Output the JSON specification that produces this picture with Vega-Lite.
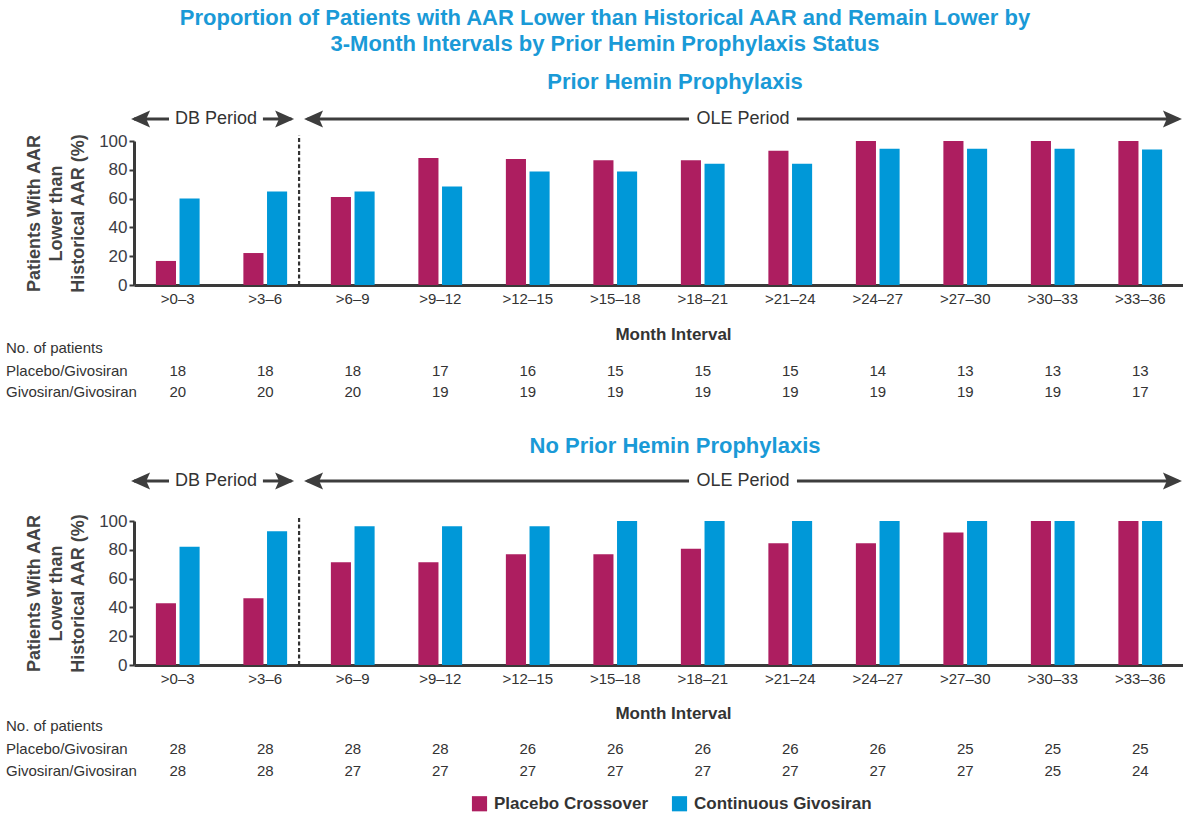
{
  "$schema": "https://vega.github.io/schema/vega-lite/v6.json",
  "background": "white",
  "padding": {"left": 5, "right": 0, "top": 6, "bottom": 0},
  "title": {
    "text": ["Proportion of Patients with AAR Lower than Historical AAR and Remain Lower by", "3-Month Intervals by Prior Hemin Prophylaxis Status"],
    "fontSize": 22, "fontWeight": "bold", "color": "#1A9AD7", "lineHeight": 26, "anchor": "middle", "offset": 15, "dx": 10
  },
  "datasets": {
    "bars": [
      {"panel": "Prior", "interval": ">0–3", "series": "Placebo Crossover", "pct": 16.7},
      {"panel": "Prior", "interval": ">3–6", "series": "Placebo Crossover", "pct": 22.2},
      {"panel": "Prior", "interval": ">6–9", "series": "Placebo Crossover", "pct": 61.1},
      {"panel": "Prior", "interval": ">9–12", "series": "Placebo Crossover", "pct": 88.2},
      {"panel": "Prior", "interval": ">12–15", "series": "Placebo Crossover", "pct": 87.5},
      {"panel": "Prior", "interval": ">15–18", "series": "Placebo Crossover", "pct": 86.7},
      {"panel": "Prior", "interval": ">18–21", "series": "Placebo Crossover", "pct": 86.7},
      {"panel": "Prior", "interval": ">21–24", "series": "Placebo Crossover", "pct": 93.3},
      {"panel": "Prior", "interval": ">24–27", "series": "Placebo Crossover", "pct": 100},
      {"panel": "Prior", "interval": ">27–30", "series": "Placebo Crossover", "pct": 100},
      {"panel": "Prior", "interval": ">30–33", "series": "Placebo Crossover", "pct": 100},
      {"panel": "Prior", "interval": ">33–36", "series": "Placebo Crossover", "pct": 100},
      {"panel": "Prior", "interval": ">0–3", "series": "Continuous Givosiran", "pct": 60},
      {"panel": "Prior", "interval": ">3–6", "series": "Continuous Givosiran", "pct": 65},
      {"panel": "Prior", "interval": ">6–9", "series": "Continuous Givosiran", "pct": 65},
      {"panel": "Prior", "interval": ">9–12", "series": "Continuous Givosiran", "pct": 68.4},
      {"panel": "Prior", "interval": ">12–15", "series": "Continuous Givosiran", "pct": 78.9},
      {"panel": "Prior", "interval": ">15–18", "series": "Continuous Givosiran", "pct": 78.9},
      {"panel": "Prior", "interval": ">18–21", "series": "Continuous Givosiran", "pct": 84.2},
      {"panel": "Prior", "interval": ">21–24", "series": "Continuous Givosiran", "pct": 84.2},
      {"panel": "Prior", "interval": ">24–27", "series": "Continuous Givosiran", "pct": 94.7},
      {"panel": "Prior", "interval": ">27–30", "series": "Continuous Givosiran", "pct": 94.7},
      {"panel": "Prior", "interval": ">30–33", "series": "Continuous Givosiran", "pct": 94.7},
      {"panel": "Prior", "interval": ">33–36", "series": "Continuous Givosiran", "pct": 94.1},
      {"panel": "NoPrior", "interval": ">0–3", "series": "Placebo Crossover", "pct": 42.9},
      {"panel": "NoPrior", "interval": ">3–6", "series": "Placebo Crossover", "pct": 46.4},
      {"panel": "NoPrior", "interval": ">6–9", "series": "Placebo Crossover", "pct": 71.4},
      {"panel": "NoPrior", "interval": ">9–12", "series": "Placebo Crossover", "pct": 71.4},
      {"panel": "NoPrior", "interval": ">12–15", "series": "Placebo Crossover", "pct": 76.9},
      {"panel": "NoPrior", "interval": ">15–18", "series": "Placebo Crossover", "pct": 76.9},
      {"panel": "NoPrior", "interval": ">18–21", "series": "Placebo Crossover", "pct": 80.8},
      {"panel": "NoPrior", "interval": ">21–24", "series": "Placebo Crossover", "pct": 84.6},
      {"panel": "NoPrior", "interval": ">24–27", "series": "Placebo Crossover", "pct": 84.6},
      {"panel": "NoPrior", "interval": ">27–30", "series": "Placebo Crossover", "pct": 92},
      {"panel": "NoPrior", "interval": ">30–33", "series": "Placebo Crossover", "pct": 100},
      {"panel": "NoPrior", "interval": ">33–36", "series": "Placebo Crossover", "pct": 100},
      {"panel": "NoPrior", "interval": ">0–3", "series": "Continuous Givosiran", "pct": 82.1},
      {"panel": "NoPrior", "interval": ">3–6", "series": "Continuous Givosiran", "pct": 92.9},
      {"panel": "NoPrior", "interval": ">6–9", "series": "Continuous Givosiran", "pct": 96.3},
      {"panel": "NoPrior", "interval": ">9–12", "series": "Continuous Givosiran", "pct": 96.3},
      {"panel": "NoPrior", "interval": ">12–15", "series": "Continuous Givosiran", "pct": 96.3},
      {"panel": "NoPrior", "interval": ">15–18", "series": "Continuous Givosiran", "pct": 100},
      {"panel": "NoPrior", "interval": ">18–21", "series": "Continuous Givosiran", "pct": 100},
      {"panel": "NoPrior", "interval": ">21–24", "series": "Continuous Givosiran", "pct": 100},
      {"panel": "NoPrior", "interval": ">24–27", "series": "Continuous Givosiran", "pct": 100},
      {"panel": "NoPrior", "interval": ">27–30", "series": "Continuous Givosiran", "pct": 100},
      {"panel": "NoPrior", "interval": ">30–33", "series": "Continuous Givosiran", "pct": 100},
      {"panel": "NoPrior", "interval": ">33–36", "series": "Continuous Givosiran", "pct": 100}
    ],
    "counts": [
      {"panel": "Prior", "arm": "Placebo/Givosiran", "interval": ">0–3", "n": 18},
      {"panel": "Prior", "arm": "Placebo/Givosiran", "interval": ">3–6", "n": 18},
      {"panel": "Prior", "arm": "Placebo/Givosiran", "interval": ">6–9", "n": 18},
      {"panel": "Prior", "arm": "Placebo/Givosiran", "interval": ">9–12", "n": 17},
      {"panel": "Prior", "arm": "Placebo/Givosiran", "interval": ">12–15", "n": 16},
      {"panel": "Prior", "arm": "Placebo/Givosiran", "interval": ">15–18", "n": 15},
      {"panel": "Prior", "arm": "Placebo/Givosiran", "interval": ">18–21", "n": 15},
      {"panel": "Prior", "arm": "Placebo/Givosiran", "interval": ">21–24", "n": 15},
      {"panel": "Prior", "arm": "Placebo/Givosiran", "interval": ">24–27", "n": 14},
      {"panel": "Prior", "arm": "Placebo/Givosiran", "interval": ">27–30", "n": 13},
      {"panel": "Prior", "arm": "Placebo/Givosiran", "interval": ">30–33", "n": 13},
      {"panel": "Prior", "arm": "Placebo/Givosiran", "interval": ">33–36", "n": 13},
      {"panel": "Prior", "arm": "Givosiran/Givosiran", "interval": ">0–3", "n": 20},
      {"panel": "Prior", "arm": "Givosiran/Givosiran", "interval": ">3–6", "n": 20},
      {"panel": "Prior", "arm": "Givosiran/Givosiran", "interval": ">6–9", "n": 20},
      {"panel": "Prior", "arm": "Givosiran/Givosiran", "interval": ">9–12", "n": 19},
      {"panel": "Prior", "arm": "Givosiran/Givosiran", "interval": ">12–15", "n": 19},
      {"panel": "Prior", "arm": "Givosiran/Givosiran", "interval": ">15–18", "n": 19},
      {"panel": "Prior", "arm": "Givosiran/Givosiran", "interval": ">18–21", "n": 19},
      {"panel": "Prior", "arm": "Givosiran/Givosiran", "interval": ">21–24", "n": 19},
      {"panel": "Prior", "arm": "Givosiran/Givosiran", "interval": ">24–27", "n": 19},
      {"panel": "Prior", "arm": "Givosiran/Givosiran", "interval": ">27–30", "n": 19},
      {"panel": "Prior", "arm": "Givosiran/Givosiran", "interval": ">30–33", "n": 19},
      {"panel": "Prior", "arm": "Givosiran/Givosiran", "interval": ">33–36", "n": 17},
      {"panel": "NoPrior", "arm": "Placebo/Givosiran", "interval": ">0–3", "n": 28},
      {"panel": "NoPrior", "arm": "Placebo/Givosiran", "interval": ">3–6", "n": 28},
      {"panel": "NoPrior", "arm": "Placebo/Givosiran", "interval": ">6–9", "n": 28},
      {"panel": "NoPrior", "arm": "Placebo/Givosiran", "interval": ">9–12", "n": 28},
      {"panel": "NoPrior", "arm": "Placebo/Givosiran", "interval": ">12–15", "n": 26},
      {"panel": "NoPrior", "arm": "Placebo/Givosiran", "interval": ">15–18", "n": 26},
      {"panel": "NoPrior", "arm": "Placebo/Givosiran", "interval": ">18–21", "n": 26},
      {"panel": "NoPrior", "arm": "Placebo/Givosiran", "interval": ">21–24", "n": 26},
      {"panel": "NoPrior", "arm": "Placebo/Givosiran", "interval": ">24–27", "n": 26},
      {"panel": "NoPrior", "arm": "Placebo/Givosiran", "interval": ">27–30", "n": 25},
      {"panel": "NoPrior", "arm": "Placebo/Givosiran", "interval": ">30–33", "n": 25},
      {"panel": "NoPrior", "arm": "Placebo/Givosiran", "interval": ">33–36", "n": 25},
      {"panel": "NoPrior", "arm": "Givosiran/Givosiran", "interval": ">0–3", "n": 28},
      {"panel": "NoPrior", "arm": "Givosiran/Givosiran", "interval": ">3–6", "n": 28},
      {"panel": "NoPrior", "arm": "Givosiran/Givosiran", "interval": ">6–9", "n": 27},
      {"panel": "NoPrior", "arm": "Givosiran/Givosiran", "interval": ">9–12", "n": 27},
      {"panel": "NoPrior", "arm": "Givosiran/Givosiran", "interval": ">12–15", "n": 27},
      {"panel": "NoPrior", "arm": "Givosiran/Givosiran", "interval": ">15–18", "n": 27},
      {"panel": "NoPrior", "arm": "Givosiran/Givosiran", "interval": ">18–21", "n": 27},
      {"panel": "NoPrior", "arm": "Givosiran/Givosiran", "interval": ">21–24", "n": 27},
      {"panel": "NoPrior", "arm": "Givosiran/Givosiran", "interval": ">24–27", "n": 27},
      {"panel": "NoPrior", "arm": "Givosiran/Givosiran", "interval": ">27–30", "n": 27},
      {"panel": "NoPrior", "arm": "Givosiran/Givosiran", "interval": ">30–33", "n": 25},
      {"panel": "NoPrior", "arm": "Givosiran/Givosiran", "interval": ">33–36", "n": 24}
    ]
  },
  "vconcat": [
    {
      "title": {"text": "Prior Hemin Prophylaxis", "fontSize": 22, "fontWeight": "bold", "color": "#1A9AD7", "offset": 16, "dx": 16},
      "width": 1050,
      "height": 144,
      "resolve": {"scale": {"x": "independent"}, "axis": {"x": "independent", "y": "independent"}},
      "layer": [
        {
          "data": {"name": "bars"},
          "transform": [{"filter": "datum.panel === 'Prior'"}],
          "mark": {"type": "bar"},
          "encoding": {
            "x": {"field": "interval", "type": "nominal", "sort": [">0–3", ">3–6", ">6–9", ">9–12", ">12–15", ">15–18", ">18–21", ">21–24", ">24–27", ">27–30", ">30–33", ">33–36"],
              "scale": {"paddingInner": 0.5, "paddingOuter": 0.25},
              "axis": {"title": "Month Interval", "labelAngle": 0, "ticks": false, "tickSize": 0, "labelPadding": 6, "labelFontSize": 15, "labelColor": "#333333", "domainColor": "#3a3a3a", "domainWidth": 3, "titleFontSize": 17, "titleFontWeight": "bold", "titleColor": "#333333", "titlePadding": 20, "titleX": 539}},
            "xOffset": {"field": "series", "type": "nominal", "sort": ["Placebo Crossover", "Continuous Givosiran"], "scale": {"paddingInner": 0.15}},
            "y": {"field": "pct", "type": "quantitative", "scale": {"domain": [0, 100], "nice": false},
              "axis": {"title": ["Patients With AAR", "Lower than", "Historical AAR (%)"], "values": [0, 20, 40, 60, 80, 100], "labelOverlap": false, "grid": false, "domainColor": "#3a3a3a", "domainWidth": 3, "tickColor": "#3a3a3a", "tickWidth": 2, "tickSize": 5, "labelFontSize": 17, "labelColor": "#3c3c44", "labelPadding": 2, "titleFontSize": 18, "titleFontWeight": "bold", "titleColor": "#444444", "titleLineHeight": 22, "titlePadding": 11}},
            "color": {"field": "series", "type": "nominal", "sort": ["Placebo Crossover", "Continuous Givosiran"],
              "scale": {"domain": ["Placebo Crossover", "Continuous Givosiran"], "range": ["#AD1E60", "#0098D8"]},
              "legend": {"title": null, "orient": "none", "legendX": 337, "legendY": 654, "direction": "horizontal", "symbolType": "square", "symbolSize": 230, "symbolStrokeWidth": 0, "labelFontSize": 17, "labelFontWeight": "bold", "labelColor": "#333333", "labelLimit": 400, "columnPadding": 22, "labelOffset": 6}}
          }
        },
        {
          "data": {"name": "counts"},
          "transform": [{"filter": "datum.panel === 'Prior'"}],
          "layer": [
            {
              "transform": [{"filter": "datum.arm === 'Placebo/Givosiran'"}],
              "mark": {"type": "text", "fontSize": 15, "color": "#333333", "baseline": "middle"},
              "encoding": {
                "x": {"field": "interval", "type": "nominal", "sort": [">0–3", ">3–6", ">6–9", ">9–12", ">12–15", ">15–18", ">18–21", ">21–24", ">24–27", ">27–30", ">30–33", ">33–36"], "scale": {"type": "point", "padding": 0.5}, "axis": null},
                "y": {"datum": -59.8, "type": "quantitative", "scale": {"domain": [0, 100], "nice": false}, "axis": null},
                "text": {"field": "n", "type": "quantitative"}
              }
            },
            {
              "transform": [{"filter": "datum.arm === 'Givosiran/Givosiran'"}],
              "mark": {"type": "text", "fontSize": 15, "color": "#333333", "baseline": "middle"},
              "encoding": {
                "x": {"field": "interval", "type": "nominal", "sort": [">0–3", ">3–6", ">6–9", ">9–12", ">12–15", ">15–18", ">18–21", ">21–24", ">24–27", ">27–30", ">30–33", ">33–36"], "scale": {"type": "point", "padding": 0.5}, "axis": null},
                "y": {"datum": -74.2, "type": "quantitative", "scale": {"domain": [0, 100], "nice": false}, "axis": null},
                "text": {"field": "n", "type": "quantitative"}
              }
            }
          ]
        },
        {
          "data": {"values": [{}]},
          "layer": [
            {"mark": {"type": "text", "text": "No. of patients", "fontSize": 15, "color": "#333333", "align": "left", "baseline": "middle"},
             "encoding": {"x": {"datum": -4.39, "type": "quantitative", "scale": {"domain": [0, 36], "nice": false, "zero": false}, "axis": null}, "y": {"datum": -43.9, "type": "quantitative", "scale": {"domain": [0, 100], "nice": false}, "axis": null}}},
            {"mark": {"type": "text", "text": "Placebo/Givosiran", "fontSize": 15, "color": "#333333", "align": "left", "baseline": "middle"},
             "encoding": {"x": {"datum": -4.39, "type": "quantitative", "axis": null}, "y": {"datum": -59.8, "type": "quantitative", "axis": null}}},
            {"mark": {"type": "text", "text": "Givosiran/Givosiran", "fontSize": 15, "color": "#333333", "align": "left", "baseline": "middle"},
             "encoding": {"x": {"datum": -4.39, "type": "quantitative", "axis": null}, "y": {"datum": -74.2, "type": "quantitative", "axis": null}}},
            {"mark": {"type": "rule", "color": "#333333", "strokeWidth": 2.2, "strokeDash": [4, 2.5]},
             "encoding": {"x": {"datum": 5.66, "type": "quantitative", "axis": null}, "y": {"datum": 0, "type": "quantitative", "axis": null}, "y2": {"datum": 104}}},
            {"mark": {"type": "rule", "color": "#3d3d3d", "strokeWidth": 3},
             "encoding": {"x": {"datum": 0, "type": "quantitative", "axis": null}, "x2": {"datum": 1.2}, "y": {"datum": 115.3, "type": "quantitative", "axis": null}}},
            {"mark": {"type": "rule", "color": "#3d3d3d", "strokeWidth": 3},
             "encoding": {"x": {"datum": 4.42, "type": "quantitative", "axis": null}, "x2": {"datum": 5.4}, "y": {"datum": 115.3, "type": "quantitative", "axis": null}}},
            {"mark": {"type": "rule", "color": "#3d3d3d", "strokeWidth": 3},
             "encoding": {"x": {"datum": 5.95, "type": "quantitative", "axis": null}, "x2": {"datum": 19.03}, "y": {"datum": 115.3, "type": "quantitative", "axis": null}}},
            {"mark": {"type": "rule", "color": "#3d3d3d", "strokeWidth": 3},
             "encoding": {"x": {"datum": 22.73, "type": "quantitative", "axis": null}, "x2": {"datum": 35.8}, "y": {"datum": 115.3, "type": "quantitative", "axis": null}}},
            {"mark": {"type": "point", "filled": true, "opacity": 1, "color": "#3d3d3d", "size": 1444, "shape": "M0,0 L1,-0.45 L0.8,0 L1,0.45 Z"},
             "encoding": {"x": {"datum": -0.1, "type": "quantitative", "axis": null}, "y": {"datum": 115.3, "type": "quantitative", "axis": null}}},
            {"mark": {"type": "point", "filled": true, "opacity": 1, "color": "#3d3d3d", "size": 1444, "shape": "M0,0 L-1,-0.45 L-0.8,0 L-1,0.45 Z"},
             "encoding": {"x": {"datum": 5.49, "type": "quantitative", "axis": null}, "y": {"datum": 115.3, "type": "quantitative", "axis": null}}},
            {"mark": {"type": "point", "filled": true, "opacity": 1, "color": "#3d3d3d", "size": 1444, "shape": "M0,0 L1,-0.45 L0.8,0 L1,0.45 Z"},
             "encoding": {"x": {"datum": 5.83, "type": "quantitative", "axis": null}, "y": {"datum": 115.3, "type": "quantitative", "axis": null}}},
            {"mark": {"type": "point", "filled": true, "opacity": 1, "color": "#3d3d3d", "size": 1444, "shape": "M0,0 L-1,-0.45 L-0.8,0 L-1,0.45 Z"},
             "encoding": {"x": {"datum": 35.93, "type": "quantitative", "axis": null}, "y": {"datum": 115.3, "type": "quantitative", "axis": null}}},
            {"mark": {"type": "text", "text": "DB Period", "fontSize": 18, "color": "#333333", "baseline": "middle"},
             "encoding": {"x": {"datum": 2.81, "type": "quantitative", "axis": null}, "y": {"datum": 115.3, "type": "quantitative", "axis": null}}},
            {"mark": {"type": "text", "text": "OLE Period", "fontSize": 18, "color": "#333333", "baseline": "middle"},
             "encoding": {"x": {"datum": 20.88, "type": "quantitative", "axis": null}, "y": {"datum": 115.3, "type": "quantitative", "axis": null}}}
          ]
        }
      ]
    },
    {
      "title": {"text": "No Prior Hemin Prophylaxis", "fontSize": 22, "fontWeight": "bold", "color": "#1A9AD7", "offset": 14, "dx": 16},
      "width": 1050,
      "height": 144,
      "resolve": {"scale": {"x": "independent"}, "axis": {"x": "independent", "y": "independent"}},
      "layer": [
        {
          "data": {"name": "bars"},
          "transform": [{"filter": "datum.panel === 'NoPrior'"}],
          "mark": {"type": "bar"},
          "encoding": {
            "x": {"field": "interval", "type": "nominal", "sort": [">0–3", ">3–6", ">6–9", ">9–12", ">12–15", ">15–18", ">18–21", ">21–24", ">24–27", ">27–30", ">30–33", ">33–36"],
              "scale": {"paddingInner": 0.5, "paddingOuter": 0.25},
              "axis": {"title": "Month Interval", "labelAngle": 0, "ticks": false, "tickSize": 0, "labelPadding": 6, "labelFontSize": 15, "labelColor": "#333333", "domainColor": "#3a3a3a", "domainWidth": 3, "titleFontSize": 17, "titleFontWeight": "bold", "titleColor": "#333333", "titlePadding": 19, "titleX": 539}},
            "xOffset": {"field": "series", "type": "nominal", "sort": ["Placebo Crossover", "Continuous Givosiran"], "scale": {"paddingInner": 0.15}},
            "y": {"field": "pct", "type": "quantitative", "scale": {"domain": [0, 100], "nice": false},
              "axis": {"title": ["Patients With AAR", "Lower than", "Historical AAR (%)"], "values": [0, 20, 40, 60, 80, 100], "labelOverlap": false, "grid": false, "domainColor": "#3a3a3a", "domainWidth": 3, "tickColor": "#3a3a3a", "tickWidth": 2, "tickSize": 5, "labelFontSize": 17, "labelColor": "#3c3c44", "labelPadding": 2, "titleFontSize": 18, "titleFontWeight": "bold", "titleColor": "#444444", "titleLineHeight": 22, "titlePadding": 11}},
            "color": {"field": "series", "type": "nominal", "sort": ["Placebo Crossover", "Continuous Givosiran"],
              "scale": {"domain": ["Placebo Crossover", "Continuous Givosiran"], "range": ["#AD1E60", "#0098D8"]},
              "legend": {"title": null, "orient": "none", "legendX": 337, "legendY": 654, "direction": "horizontal", "symbolType": "square", "symbolSize": 230, "symbolStrokeWidth": 0, "labelFontSize": 17, "labelFontWeight": "bold", "labelColor": "#333333", "labelLimit": 400, "columnPadding": 22, "labelOffset": 6}}
          }
        },
        {
          "data": {"name": "counts"},
          "transform": [{"filter": "datum.panel === 'NoPrior'"}],
          "layer": [
            {
              "transform": [{"filter": "datum.arm === 'Placebo/Givosiran'"}],
              "mark": {"type": "text", "fontSize": 15, "color": "#333333", "baseline": "middle"},
              "encoding": {
                "x": {"field": "interval", "type": "nominal", "sort": [">0–3", ">3–6", ">6–9", ">9–12", ">12–15", ">15–18", ">18–21", ">21–24", ">24–27", ">27–30", ">30–33", ">33–36"], "scale": {"type": "point", "padding": 0.5}, "axis": null},
                "y": {"datum": -58.6, "type": "quantitative", "scale": {"domain": [0, 100], "nice": false}, "axis": null},
                "text": {"field": "n", "type": "quantitative"}
              }
            },
            {
              "transform": [{"filter": "datum.arm === 'Givosiran/Givosiran'"}],
              "mark": {"type": "text", "fontSize": 15, "color": "#333333", "baseline": "middle"},
              "encoding": {
                "x": {"field": "interval", "type": "nominal", "sort": [">0–3", ">3–6", ">6–9", ">9–12", ">12–15", ">15–18", ">18–21", ">21–24", ">24–27", ">27–30", ">30–33", ">33–36"], "scale": {"type": "point", "padding": 0.5}, "axis": null},
                "y": {"datum": -73.3, "type": "quantitative", "scale": {"domain": [0, 100], "nice": false}, "axis": null},
                "text": {"field": "n", "type": "quantitative"}
              }
            }
          ]
        },
        {
          "data": {"values": [{}]},
          "layer": [
            {"mark": {"type": "text", "text": "No. of patients", "fontSize": 15, "color": "#333333", "align": "left", "baseline": "middle"},
             "encoding": {"x": {"datum": -4.39, "type": "quantitative", "scale": {"domain": [0, 36], "nice": false, "zero": false}, "axis": null}, "y": {"datum": -42.7, "type": "quantitative", "scale": {"domain": [0, 100], "nice": false}, "axis": null}}},
            {"mark": {"type": "text", "text": "Placebo/Givosiran", "fontSize": 15, "color": "#333333", "align": "left", "baseline": "middle"},
             "encoding": {"x": {"datum": -4.39, "type": "quantitative", "axis": null}, "y": {"datum": -58.6, "type": "quantitative", "axis": null}}},
            {"mark": {"type": "text", "text": "Givosiran/Givosiran", "fontSize": 15, "color": "#333333", "align": "left", "baseline": "middle"},
             "encoding": {"x": {"datum": -4.39, "type": "quantitative", "axis": null}, "y": {"datum": -73.3, "type": "quantitative", "axis": null}}},
            {"mark": {"type": "rule", "color": "#333333", "strokeWidth": 2.2, "strokeDash": [4, 2.5]},
             "encoding": {"x": {"datum": 5.66, "type": "quantitative", "axis": null}, "y": {"datum": 0, "type": "quantitative", "axis": null}, "y2": {"datum": 102.5}}},
            {"mark": {"type": "rule", "color": "#3d3d3d", "strokeWidth": 3},
             "encoding": {"x": {"datum": 0, "type": "quantitative", "axis": null}, "x2": {"datum": 1.2}, "y": {"datum": 127.8, "type": "quantitative", "axis": null}}},
            {"mark": {"type": "rule", "color": "#3d3d3d", "strokeWidth": 3},
             "encoding": {"x": {"datum": 4.42, "type": "quantitative", "axis": null}, "x2": {"datum": 5.4}, "y": {"datum": 127.8, "type": "quantitative", "axis": null}}},
            {"mark": {"type": "rule", "color": "#3d3d3d", "strokeWidth": 3},
             "encoding": {"x": {"datum": 5.95, "type": "quantitative", "axis": null}, "x2": {"datum": 19.03}, "y": {"datum": 127.8, "type": "quantitative", "axis": null}}},
            {"mark": {"type": "rule", "color": "#3d3d3d", "strokeWidth": 3},
             "encoding": {"x": {"datum": 22.73, "type": "quantitative", "axis": null}, "x2": {"datum": 35.8}, "y": {"datum": 127.8, "type": "quantitative", "axis": null}}},
            {"mark": {"type": "point", "filled": true, "opacity": 1, "color": "#3d3d3d", "size": 1444, "shape": "M0,0 L1,-0.45 L0.8,0 L1,0.45 Z"},
             "encoding": {"x": {"datum": -0.1, "type": "quantitative", "axis": null}, "y": {"datum": 127.8, "type": "quantitative", "axis": null}}},
            {"mark": {"type": "point", "filled": true, "opacity": 1, "color": "#3d3d3d", "size": 1444, "shape": "M0,0 L-1,-0.45 L-0.8,0 L-1,0.45 Z"},
             "encoding": {"x": {"datum": 5.49, "type": "quantitative", "axis": null}, "y": {"datum": 127.8, "type": "quantitative", "axis": null}}},
            {"mark": {"type": "point", "filled": true, "opacity": 1, "color": "#3d3d3d", "size": 1444, "shape": "M0,0 L1,-0.45 L0.8,0 L1,0.45 Z"},
             "encoding": {"x": {"datum": 5.83, "type": "quantitative", "axis": null}, "y": {"datum": 127.8, "type": "quantitative", "axis": null}}},
            {"mark": {"type": "point", "filled": true, "opacity": 1, "color": "#3d3d3d", "size": 1444, "shape": "M0,0 L-1,-0.45 L-0.8,0 L-1,0.45 Z"},
             "encoding": {"x": {"datum": 35.93, "type": "quantitative", "axis": null}, "y": {"datum": 127.8, "type": "quantitative", "axis": null}}},
            {"mark": {"type": "text", "text": "DB Period", "fontSize": 18, "color": "#333333", "baseline": "middle"},
             "encoding": {"x": {"datum": 2.81, "type": "quantitative", "axis": null}, "y": {"datum": 127.8, "type": "quantitative", "axis": null}}},
            {"mark": {"type": "text", "text": "OLE Period", "fontSize": 18, "color": "#333333", "baseline": "middle"},
             "encoding": {"x": {"datum": 20.88, "type": "quantitative", "axis": null}, "y": {"datum": 127.8, "type": "quantitative", "axis": null}}}
          ]
        }
      ]
    }
  ],
  "spacing": 34,
  "resolve": {"scale": {"color": "shared"}, "legend": {"color": "shared"}},
  "config": {
    "font": "Liberation Sans",
    "view": {"stroke": null},
    "axis": {"labelFont": "Liberation Sans", "titleFont": "Liberation Sans"},
    "axisY": {"labelOverlap": false},
    "legend": {"labelFont": "Liberation Sans"},
    "title": {"font": "Liberation Sans"},
    "text": {"font": "Liberation Sans"}
  }
}
